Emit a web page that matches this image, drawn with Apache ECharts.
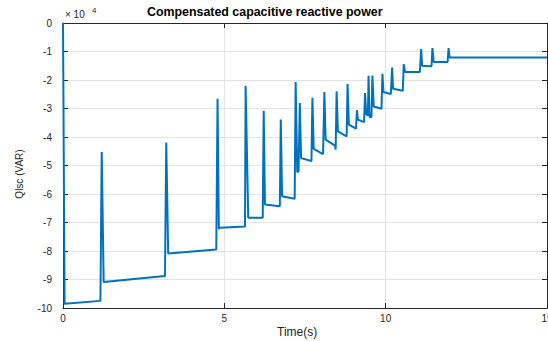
<!DOCTYPE html>
<html>
<head>
<meta charset="utf-8">
<script src="https://cdn.jsdelivr.net/npm/echarts@6/dist/echarts.min.js"></script>
<style>
html,body{margin:0;padding:0;background:#fff;}
#chart{width:548px;height:341px;}
</style>
</head>
<body>
<div id="chart"></div>
<script>
// Time (s)
const timeS = [0, 0.05, 1.16, 1.2, 1.26, 3.16, 3.2, 3.26, 4.75, 4.79, 4.83, 4.86,
  5.64, 5.66, 5.74, 6.19, 6.22, 6.26, 6.72, 6.75, 6.79, 7.18, 7.21, 7.26, 7.3, 7.34, 7.38,
  7.7, 7.73, 7.77, 8.06, 8.1, 8.14, 8.43, 8.45, 8.48, 8.52, 8.79, 8.82, 8.86, 9.08, 9.11,
  9.14, 9.33, 9.36, 9.4, 9.45, 9.47, 9.5, 9.56, 9.59, 9.63, 9.87, 9.9, 9.93, 10.16, 10.2,
  10.23, 10.53, 10.56, 10.6, 11.06, 11.1, 11.13, 11.42, 11.45, 11.49, 11.92, 11.95, 11.98, 15];
// Qlsc in units of 10^4 VAR
const qlsc = [0, -9.85, -9.75, -4.53, -9.09, -8.88, -4.19, -8.09, -7.95, -2.66, -7.23, -7.18,
  -7.14, -2.2, -6.83, -6.83, -3.08, -6.37, -6.43, -3.39, -6.08, -6.17, -2.07, -5.24, -5.2, -2.81, -4.74,
  -4.84, -2.62, -4.42, -4.6, -2.42, -4.09, -4.3, -4.44, -2.4, -3.8, -3.98, -2.14, -3.57, -3.71, -3.06,
  -3.39, -3.48, -2.46, -3.2, -3.25, -1.85, -3.3, -3.3, -1.84, -2.93, -3.01, -1.78, -2.42, -2.49, -1.56,
  -2.31, -2.38, -1.44, -1.72, -1.72, -0.91, -1.5, -1.52, -0.88, -1.37, -1.37, -0.88, -1.21, -1.21];
const xTicks = [0, 5, 10, 15];
const yTicks = [-10, -9, -8, -7, -6, -5, -4, -3, -2, -1, 0];

const chart = echarts.init(document.getElementById('chart'), null, {renderer: 'svg'});
const axCol = '#262626';
const gridCol = '#e3e3e3';
const lab = {color: axCol, fontSize: 10, fontFamily: 'Liberation Sans, Arial, sans-serif'};
const data = timeS.map((t, i) => [t, qlsc[i]]);

chart.setOption({
  animation: false,
  backgroundColor: '#fff',
  grid: {left: 63, right: 1, top: 23, bottom: 33, containLabel: false, outerBoundsMode: 'none'},
  xAxis: [{
    type: 'value', min: xTicks[0], max: xTicks[xTicks.length - 1], interval: 5,
    axisLine: {show: true, onZero: false, lineStyle: {color: axCol, width: 1}},
    axisTick: {show: true, inside: true, length: 5, lineStyle: {color: axCol}},
    axisLabel: Object.assign({margin: 5}, lab),
    splitLine: {show: true, lineStyle: {color: gridCol, width: 1}}
  }, {
    type: 'value', position: 'top', min: 0, max: 15, interval: 5,
    axisLine: {show: true, onZero: false, lineStyle: {color: axCol, width: 1}},
    axisTick: {show: true, inside: true, length: 5, lineStyle: {color: axCol}},
    axisLabel: {show: false}, splitLine: {show: false}
  }],
  yAxis: [{
    type: 'value', min: yTicks[0], max: yTicks[yTicks.length - 1], interval: 1,
    axisLine: {show: true, onZero: false, lineStyle: {color: axCol, width: 1}},
    axisTick: {show: true, inside: true, length: 5, lineStyle: {color: axCol}},
    axisLabel: Object.assign({margin: 11}, lab),
    splitLine: {show: true, lineStyle: {color: gridCol, width: 1}}
  }, {
    type: 'value', position: 'right', min: -10, max: 0, interval: 1,
    axisLine: {show: true, onZero: false, lineStyle: {color: axCol, width: 1}},
    axisTick: {show: true, inside: true, length: 5, lineStyle: {color: axCol}},
    axisLabel: {show: false}, splitLine: {show: false}
  }],
  series: [{
    type: 'line', data: data, xAxisIndex: 0, yAxisIndex: 0,
    showSymbol: false, symbol: 'none', z: 5,
    lineStyle: {color: '#0072BD', width: 2},
    itemStyle: {color: '#0072BD'}
  }],
  graphic: [
    {type: 'text', left: 147, top: 6, style: {text: 'Compensated capacitive reactive power', font: 'bold 12.4px Liberation Sans, Arial, sans-serif', fill: '#000'}},
    {type: 'text', left: 277, top: 326, style: {text: 'Time(s)', font: '12px Liberation Sans, Arial, sans-serif', fill: axCol}},
    {type: 'text', x: 19, y: 174, rotation: Math.PI / 2, style: {text: 'Qlsc (VAR)', font: '10px Liberation Sans, Arial, sans-serif', fill: axCol, textAlign: 'center', textVerticalAlign: 'middle'}},
    {type: 'text', left: 65, top: 9, style: {text: '\u00d7 10', font: '10px Liberation Sans, Arial, sans-serif', fill: axCol}},
    {type: 'text', left: 92, top: 6, style: {text: '4', font: '8px Liberation Sans, Arial, sans-serif', fill: axCol}}
  ]
});
</script>
</body>
</html>
